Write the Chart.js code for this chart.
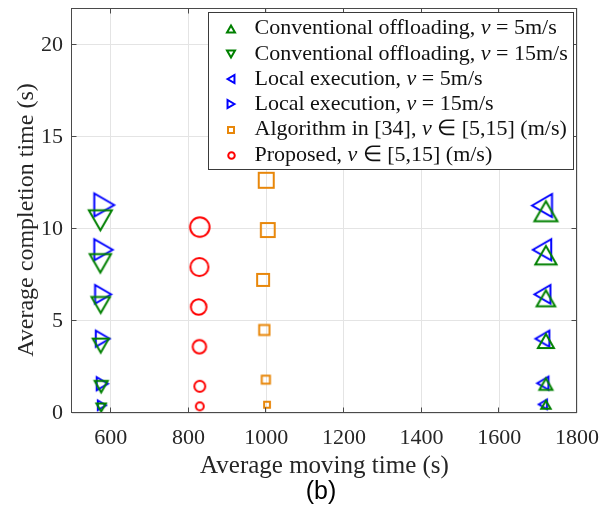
<!DOCTYPE html>
<html>
<head>
<meta charset="utf-8">
<script src="https://cdn.jsdelivr.net/npm/chart.js@4.4.1/dist/chart.umd.min.js"></script>
<style>
  html, body { margin: 0; padding: 0; background: #ffffff; }
  #wrap { width: 612px; height: 521px; }
</style>
</head>
<body>
<div id="wrap"><canvas id="chart" width="612" height="521"></canvas></div>
<script>
// ---- data (each series listed from the lowest point to the highest) ----
const seriesLabels = [
  'Conventional offloading, v = 5m/s',
  'Conventional offloading, v = 15m/s',
  'Local execution, v = 5m/s',
  'Local execution, v = 15m/s',
  'Algorithm in [34], v \u2208 [5,15] (m/s)',
  'Proposed, v \u2208 [5,15] (m/s)'
];
const xTickValues = [600, 800, 1000, 1200, 1400, 1600, 1800];
const yTickValues = [0, 5, 10, 15, 20];

const convOff5X  = [1720, 1720, 1720, 1720, 1720, 1720];
const convOff5Y  = [0.45, 1.57, 3.91, 6.23, 8.57, 10.96];
const convOff15X = [575, 575, 574, 574, 573, 573];
const convOff15Y = [0.30, 1.43, 3.66, 5.87, 8.13, 10.47];
const local5X    = [1712, 1712, 1711, 1711, 1710, 1710];
const local5Y    = [0.47, 1.62, 4.04, 6.45, 8.87, 11.27];
const local15X   = [577, 578, 579, 580, 581, 583];
const local15Y   = [0.42, 1.59, 4.04, 6.45, 8.87, 11.30];
const algo34X    = [1002, 999, 995, 992, 1004, 1000];
const algo34Y    = [0.45, 1.81, 4.51, 7.23, 9.94, 12.64];
const proposedX  = [829, 829, 828, 826, 828, 829];
const proposedY  = [0.36, 1.45, 3.60, 5.76, 7.93, 10.10];

// ---- styling ----
const serif = 'Liberation Serif';
const GREEN = '#008000', BLUE = '#0000ff', ORANGE = '#e8870a', RED = '#ff0000';
const markerGrowth = [0.46, 0.60, 0.72, 0.82, 0.93, 1.0];   // marker size steps, small to large
const MARK_LW = 2;
const PLOT_TOP = 8;

// Outline marker drawn on its own canvas, centred in its bounding box.
function markerCanvas(shape, size, color, lw) {
  const pad = 4;
  const dim = Math.ceil(size) + pad * 2;
  const cv = document.createElement('canvas');
  cv.width = dim; cv.height = dim;
  const g = cv.getContext('2d');
  g.strokeStyle = color;
  g.lineWidth = lw;
  g.lineJoin = 'miter';
  const c = dim / 2;
  const s = size - lw;
  g.beginPath();
  if (shape === 'circle') {
    g.arc(c, c, s / 2, 0, Math.PI * 2);
  } else if (shape === 'square') {
    g.rect(c - s / 2, c - s / 2, s, s);
  } else {
    const h = s * 0.866, w = s;
    const pts = {
      up:    [[0, -h / 2], [-w / 2, h / 2], [w / 2, h / 2]],
      down:  [[0, h / 2], [-w / 2, -h / 2], [w / 2, -h / 2]],
      right: [[h / 2, 0], [-h / 2, -w / 2], [-h / 2, w / 2]],
      left:  [[-h / 2, 0], [h / 2, -w / 2], [h / 2, w / 2]]
    }[shape];
    g.moveTo(c + pts[0][0], c + pts[0][1]);
    g.lineTo(c + pts[1][0], c + pts[1][1]);
    g.lineTo(c + pts[2][0], c + pts[2][1]);
  }
  g.closePath();
  g.stroke();
  return cv;
}

const seriesDefs = [
  { xs: convOff5X,  ys: convOff5Y,  shape: 'up',     color: GREEN,  base: 25,   legendSize: 10 },
  { xs: convOff15X, ys: convOff15Y, shape: 'down',   color: GREEN,  base: 25,   legendSize: 10 },
  { xs: local5X,    ys: local5Y,    shape: 'left',   color: BLUE,   base: 25,   legendSize: 10 },
  { xs: local15X,   ys: local15Y,   shape: 'right',  color: BLUE,   base: 25,   legendSize: 10 },
  { xs: algo34X,    ys: algo34Y,    shape: 'square', color: ORANGE, base: 17,   legendSize: 8 },
  { xs: proposedX,  ys: proposedY,  shape: 'circle', color: RED,    base: 21.5, legendSize: 8.5 }
];

const datasets = seriesDefs.map((d, i) => {
  const sizes = markerGrowth.map(k => d.base * k);
  return {
    label: seriesLabels[i],
    data: d.xs.map((x, j) => ({ x: x, y: d.ys[j] })),
    showLine: false,
    pointStyle: sizes.map(s => markerCanvas(d.shape, s, d.color, MARK_LW)),
    pointRadius: sizes.map(s => s / 2),
    borderColor: d.color,
    backgroundColor: d.color
  };
});

const legendMarks = seriesDefs.map(d => markerCanvas(d.shape, d.legendSize, d.color, MARK_LW));

// Keep the plot box flush with the top margin, whatever room the layout reserved for labels.
const plotTop = {
  id: 'plotTop',
  afterLayout(chart) {
    const a = chart.chartArea;
    if (a.top !== PLOT_TOP) {
      a.top = PLOT_TOP;
      a.height = a.bottom - a.top;
      const y = chart.scales.y;
      y.top = PLOT_TOP;
      y.height = y.bottom - y.top;
      y.configure();
    }
  }
};

// Frame, inward tick marks, axis titles, caption and the boxed legend.
const decorations = {
  id: 'decorations',
  afterDraw(chart) {
    const ctx = chart.ctx;
    const a = chart.chartArea;
    const xs = chart.scales.x, ys = chart.scales.y;
    const L = Math.round(a.left) - 0.5, R = Math.round(a.right) - 0.5;
    const T = Math.round(a.top) + 0.5, B = Math.round(a.bottom) - 0.5;
    ctx.save();
    ctx.strokeStyle = '#4a4a4a';
    ctx.lineWidth = 1;
    ctx.strokeRect(L, T, R - L, B - T);
    const tl = 5;
    ctx.beginPath();
    xTickValues.forEach(v => {
      const px = Math.round(xs.getPixelForValue(v)) - 0.5;
      ctx.moveTo(px, B); ctx.lineTo(px, B - tl);
      ctx.moveTo(px, T); ctx.lineTo(px, T + tl);
    });
    yTickValues.forEach(v => {
      const py = Math.round(ys.getPixelForValue(v)) - 0.5;
      ctx.moveTo(L, py); ctx.lineTo(L + tl, py);
      ctx.moveTo(R, py); ctx.lineTo(R - tl, py);
    });
    ctx.stroke();

    // axis titles
    ctx.fillStyle = '#262626';
    ctx.textAlign = 'center';
    ctx.textBaseline = 'middle';
    ctx.font = '25px "' + serif + '"';
    ctx.fillText('Average moving time (s)', (a.left + a.right) / 2, 466);
    ctx.save();
    ctx.font = '24px "' + serif + '"';
    ctx.translate(27, 220);
    ctx.rotate(-Math.PI / 2);
    ctx.fillText('Average completion time (s)', 0, 0);
    ctx.restore();

    // caption
    ctx.fillStyle = '#000000';
    ctx.font = '25px "Liberation Sans"';
    ctx.fillText('(b)', 321, 492);

    // legend
    const fs = 22;
    const upright = fs + 'px "' + serif + '"';
    const italic = 'italic ' + fs + 'px "' + serif + '"';
    const pieces = seriesLabels.map(t => t.split(/(\bv\b)/).filter(p => p.length));
    const widthOf = parts => parts.reduce((w, p) => {
      ctx.font = p === 'v' ? italic : upright;
      return w + ctx.measureText(p).width;
    }, 0);
    const textW = Math.max(...pieces.map(widthOf));
    const rowH = 25.3;
    const boxW = Math.round(46 + textW + 6);
    const boxH = Math.round(rowH * seriesLabels.length + 5);
    const bx = Math.round(a.right - 4 - boxW) + 0.5;
    const by = Math.round(a.top + 4) + 0.5;
    ctx.fillStyle = '#ffffff';
    ctx.fillRect(bx, by, boxW, boxH);
    ctx.strokeStyle = '#3a3a3a';
    ctx.strokeRect(bx, by, boxW, boxH);
    ctx.textAlign = 'left';
    ctx.textBaseline = 'middle';
    ctx.fillStyle = '#111111';
    pieces.forEach((parts, i) => {
      const cy = by + 16 + i * rowH;
      const m = legendMarks[i];
      ctx.drawImage(m, Math.round(bx + 22.5 - m.width / 2), Math.round(cy - m.height / 2));
      let tx = bx + 46;
      parts.forEach(p => {
        ctx.font = p === 'v' ? italic : upright;
        ctx.fillText(p, tx, cy);
        tx += ctx.measureText(p).width;
      });
    });
    ctx.restore();
  }
};

new Chart(document.getElementById('chart'), {
  type: 'scatter',
  data: { datasets: datasets },
  plugins: [plotTop, decorations],
  options: {
    responsive: false,
    animation: false,
    events: [],
    layout: { padding: { left: 0, right: 35, top: PLOT_TOP, bottom: 0 } },
    plugins: { legend: { display: false }, tooltip: { enabled: false } },
    scales: {
      x: {
        type: 'linear',
        min: 500,
        max: 1800,
        afterBuildTicks: s => { s.ticks = xTickValues.map(v => ({ value: v })); },
        afterFit: s => { s.height = 108; s.paddingLeft = 0; s.paddingRight = 0; },
        grid: { color: '#e4e4e4', lineWidth: 1, drawTicks: false },
        border: { display: false },
        ticks: {
          padding: 12,
          color: '#262626',
          maxRotation: 0,
          callback: v => String(v),
          font: { family: serif, size: 22 }
        }
      },
      y: {
        type: 'linear',
        min: 0,
        max: 22,
        afterBuildTicks: s => { s.ticks = yTickValues.map(v => ({ value: v })); },
        afterFit: s => { s.width = 72; s.paddingTop = 0; s.paddingBottom = 0; },
        grid: { color: '#e4e4e4', lineWidth: 1, drawTicks: false },
        border: { display: false },
        ticks: {
          padding: 9,
          color: '#262626',
          callback: v => String(v),
          font: { family: serif, size: 22 }
        }
      }
    }
  }
});
</script>
</body>
</html>
